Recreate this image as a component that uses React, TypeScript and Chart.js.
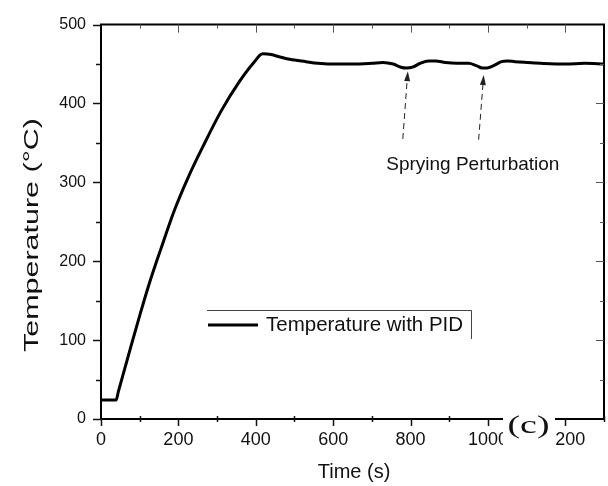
import React, { useEffect, useRef } from 'react';
import { Chart, registerables } from 'chart.js';
Chart.register(...registerables);

// ---- data ----
const timeS = [0, 39, 45, 79, 100, 125, 155, 190, 226, 263, 310, 358, 395, 418, 440, 462, 488, 530, 560, 592, 650, 700, 729, 755, 775, 790, 805, 825, 846, 865, 890, 920, 950, 970, 985, 998, 1015, 1035, 1050, 1070, 1100, 1136, 1200, 1250, 1300];
const tempC = [24, 24, 35, 95, 131, 172, 216, 265, 307, 345, 390, 428, 452, 463, 462, 459, 456, 453, 451, 450, 450, 451, 452, 450, 446, 445, 446, 451, 454, 454, 452, 451, 451, 448, 445, 445, 448, 453, 454, 453, 452, 451, 450, 451, 450];
const xTicks = [0, 200, 400, 600, 800, 1000, 1200];
const yTicks = [0, 100, 200, 300, 400, 500];
const seriesLabel = 'Temperature with PID';
const xTitle = 'Time (s)';
const yTitle = 'Temperature (°C)';
const annotationText = 'Sprying Perturbation';
const arrowTailT = [780, 976];
const arrowTailV = [355, 354];
const arrowTipT = [793, 989];
const arrowTipV = [441, 436];
const annotationT = 961;
const annotationV = 322;
const panelTag = '(c)';

const SANS = 'Arial, "Liberation Sans", sans-serif';
const SERIF = '"Liberation Serif", "Times New Roman", serif';

export default function App() {
  const ref = useRef<HTMLCanvasElement>(null);
  useEffect(() => {
    const canvas = ref.current!;
    const overlay = {
      id: 'overlay',
      afterDraw(chart: any) {
        const ctx = chart.ctx as CanvasRenderingContext2D;
        const xs = chart.scales.x;
        const ys = chart.scales.y;
        const ca = chart.chartArea;
        ctx.save();
        // frame
        ctx.strokeStyle = '#000';
        ctx.lineWidth = 2;
        ctx.beginPath();
        ctx.moveTo(ca.left, ca.top);
        ctx.lineTo(ca.right, ca.top);
        ctx.lineTo(ca.right, ca.bottom);
        ctx.lineTo(ca.left, ca.bottom);
        ctx.closePath();
        ctx.stroke();
        // left ticks (outward)
        ctx.lineWidth = 1.5;
        ctx.strokeStyle = '#111';
        for (let v = 0; v <= 500; v += 50) {
          const y = Math.round(ys.getPixelForValue(v)) + 0.5;
          const len = v % 100 === 0 ? 8 : 5;
          ctx.beginPath();
          ctx.moveTo(ca.left - len, y);
          ctx.lineTo(ca.left, y);
          ctx.stroke();
        }
        // bottom ticks
        for (let t = 0; t <= 1300; t += 100) {
          const x = Math.round(xs.getPixelForValue(t)) + 0.5;
          ctx.beginPath();
          if (t % 200 === 0) {
            ctx.moveTo(x, ca.bottom);
            ctx.lineTo(x, ca.bottom + 7);
          } else {
            ctx.moveTo(x, ca.bottom - 3);
            ctx.lineTo(x, ca.bottom + 3);
          }
          ctx.stroke();
        }
        // top ticks (inward)
        ctx.strokeStyle = '#555';
        ctx.lineWidth = 1;
        for (let t = 100; t < 1300; t += 100) {
          const x = Math.round(xs.getPixelForValue(t)) + 0.5;
          const len = t % 200 === 0 ? 8 : 4;
          ctx.beginPath();
          ctx.moveTo(x, ca.top);
          ctx.lineTo(x, ca.top + len);
          ctx.stroke();
        }
        // right ticks (inward)
        for (let v = 50; v < 500; v += 50) {
          const y = Math.round(ys.getPixelForValue(v)) + 0.5;
          const len = v % 100 === 0 ? 8 : 4;
          ctx.beginPath();
          ctx.moveTo(ca.right - len, y);
          ctx.lineTo(ca.right, y);
          ctx.stroke();
        }
        // panel tag box
        ctx.fillStyle = '#fff';
        ctx.fillRect(503, 410, 52, 50);
        ctx.fillStyle = '#111';
        ctx.font = '25px ' + SERIF;
        ctx.textAlign = 'center';
        ctx.textBaseline = 'alphabetic';
        {
          const w = ctx.measureText(panelTag).width;
          ctx.save();
          ctx.translate(528.5, 433);
          ctx.scale(42 / w, 1);
          ctx.fillText(panelTag, 0, 0);
          ctx.restore();
        }
        // axis titles
        ctx.fillStyle = '#111';
        ctx.font = '20px ' + SANS;
        ctx.textAlign = 'center';
        ctx.textBaseline = 'alphabetic';
        ctx.fillText(xTitle, 354, 478);
        ctx.font = '21px ' + SANS;
        {
          const w = ctx.measureText(yTitle).width;
          ctx.save();
          ctx.translate(38, 235);
          ctx.rotate(-Math.PI / 2);
          ctx.scale(234 / w, 1);
          ctx.textBaseline = 'alphabetic';
          ctx.fillText(yTitle, 0, 0);
          ctx.restore();
        }
        // legend
        ctx.strokeStyle = '#444';
        ctx.lineWidth = 1;
        ctx.beginPath();
        ctx.moveTo(207, 310.5);
        ctx.lineTo(471.5, 310.5);
        ctx.lineTo(471.5, 339);
        ctx.stroke();
        ctx.strokeStyle = '#000';
        ctx.lineWidth = 3;
        ctx.beginPath();
        ctx.moveTo(208, 325);
        ctx.lineTo(258, 325);
        ctx.stroke();
        ctx.font = '20.5px ' + SANS;
        ctx.textAlign = 'left';
        ctx.textBaseline = 'middle';
        ctx.fillStyle = '#111';
        ctx.fillText(seriesLabel, 266, 325);
        // arrows
        ctx.strokeStyle = '#222';
        ctx.fillStyle = '#222';
        ctx.lineWidth = 1;
        for (let i = 0; i < arrowTipT.length; i++) {
          const x0 = xs.getPixelForValue(arrowTailT[i]);
          const y0 = ys.getPixelForValue(arrowTailV[i]);
          const x1 = xs.getPixelForValue(arrowTipT[i]);
          const y1 = ys.getPixelForValue(arrowTipV[i]);
          const ang = Math.atan2(y1 - y0, x1 - x0);
          const hl = 10, hw = 3;
          const bx = x1 - hl * Math.cos(ang);
          const by = y1 - hl * Math.sin(ang);
          ctx.setLineDash([6, 4]);
          ctx.beginPath();
          ctx.moveTo(x0, y0);
          ctx.lineTo(bx, by);
          ctx.stroke();
          ctx.setLineDash([]);
          ctx.beginPath();
          ctx.moveTo(x1, y1);
          ctx.lineTo(bx + hw * Math.sin(ang), by - hw * Math.cos(ang));
          ctx.lineTo(bx - hw * Math.sin(ang), by + hw * Math.cos(ang));
          ctx.closePath();
          ctx.fill();
        }
        ctx.font = '19px ' + SANS;
        ctx.textAlign = 'center';
        ctx.textBaseline = 'middle';
        ctx.fillStyle = '#111';
        ctx.fillText(annotationText, xs.getPixelForValue(annotationT), ys.getPixelForValue(annotationV));
        ctx.restore();
      },
    };
    const chart = new Chart(canvas, {
      type: 'line',
      data: {
        datasets: [
          {
            label: seriesLabel,
            data: timeS.map((t, i) => ({ x: t, y: tempC[i] })),
            borderColor: '#000',
            borderWidth: 3,
            pointRadius: 0,
            cubicInterpolationMode: 'monotone',
            fill: false,
          },
        ],
      },
      options: {
        responsive: false,
        animation: false,
        devicePixelRatio: 1,
        layout: { padding: { top: 15, right: 4, left: 0, bottom: 0 } },
        plugins: { legend: { display: false }, tooltip: { enabled: false } },
        scales: {
          x: {
            type: 'linear',
            min: 0,
            max: 1300,
            afterBuildTicks: (s: any) => {
              s.ticks = xTicks.map((v) => ({ value: v }));
            },
            ticks: {
              font: { family: SANS, size: 18 },
              color: '#111',
              padding: 10,
              maxRotation: 0,
              autoSkip: false,
              includeBounds: false,
              callback: (v: any) => String(v),
            },
            grid: { display: false, drawTicks: false },
            border: { display: false },
            afterFit: (s: any) => {
              s.height = 67;
            },
          },
          y: {
            type: 'linear',
            min: 0,
            max: 500,
            afterBuildTicks: (s: any) => {
              s.ticks = yTicks.map((v) => ({ value: v }));
            },
            ticks: { font: { family: SANS, size: 16 }, color: '#111', padding: 15, autoSkip: false, callback: (v: any) => String(v) },
            grid: { display: false, drawTicks: false },
            border: { display: false },
            afterFit: (s: any) => {
              s.width = 101;
            },
          },
        },
      },
      plugins: [overlay],
    } as any);
    return () => chart.destroy();
  }, []);
  return (
    <div style={{ position: 'fixed', left: 0, top: 0, width: 608, height: 486, background: '#fff' }}>
      <canvas ref={ref} width={608} height={486} style={{ display: 'block' }} />
    </div>
  );
}
